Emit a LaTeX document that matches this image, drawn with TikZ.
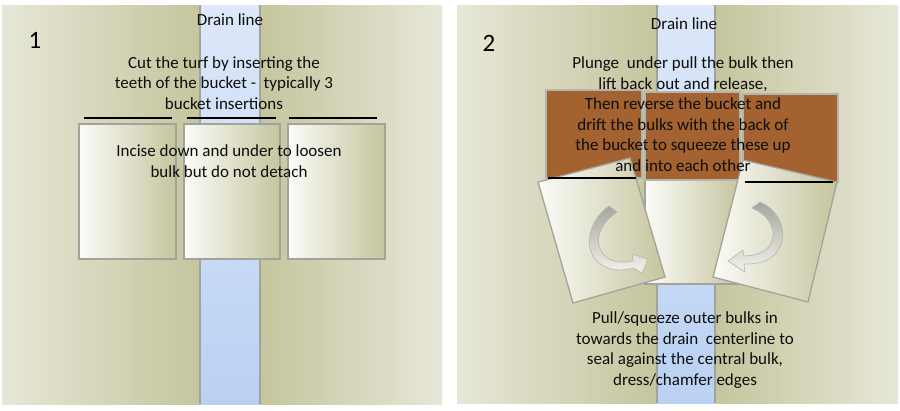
\documentclass[tikz,border=0pt]{standalone}
\usepackage{xcolor}
\usepackage{fontspec}
\setmainfont{Carlito}
\usepackage{tikz}

\definecolor{turflight}{HTML}{E7E7D8}
\definecolor{turfdark}{HTML}{C5C59E}
\definecolor{draintop}{HTML}{DDE8F9}
\definecolor{drainbottom}{HTML}{B9D1F3}
\definecolor{bulkbrown}{HTML}{A3622F}
\definecolor{rimgray}{HTML}{A3A39B}
\definecolor{arrowgray}{HTML}{A6A6A0}

\begin{document}
\begin{tikzpicture}[x=1pt, y=-1pt,
    turfleft/.style={left color=turflight, right color=turfdark},
    turfright/.style={left color=turfdark, right color=turflight},
    drain/.style={top color=draintop, bottom color=drainbottom},
    bulk/.style={draw=rimgray, line width=1.3pt, left color=white!85!turflight, right color=turfdark},
    lifted/.style={draw=rimgray!80, line width=1.3pt, fill=bulkbrown},
    cutline/.style={line width=1.3pt, black},
    turnarrow/.style={draw=rimgray!80, line width=0.6pt, top color=arrowgray, bottom color=turflight!50!white},
    txt/.style={font=\fontsize{17}{20.5}\selectfont, align=center, text=black!95, inner sep=0pt},
    stepno/.style={font=\fontsize{25}{30}\selectfont, inner sep=0pt}]
    \useasboundingbox (0,0) rectangle (900,410);
    \fill[white] (0,0) rectangle (900,410);

    % Panel 1 - turf and drain
    \shade[turfleft] (2,5) rectangle (200,404);
    \shade[turfright] (260,5) rectangle (442,404);
    \shade[drain] (200,5) rectangle (260,404);
    \draw[rimgray, line width=1.5pt] (200,5) -- (200,404) (260,5) -- (260,404);

    % Panel 1 - bucket cuts and bulks
    \draw[cutline] (84,118) -- (172,118);
    \draw[cutline] (187,118) -- (276,118);
    \draw[cutline] (289,118) -- (377,118);
    \draw[bulk] (79,124) rectangle (176,259);
    \draw[bulk] (184,124) rectangle (280,259);
    \draw[bulk] (288,124) rectangle (385,259);

    % Panel 1 - labels
    \node[stepno] (num1) at (35,40) {1};
    \node[txt] (drain1) at (230,20) {Drain line};
    \node[txt] (cut) at (224,83) {Cut the turf by inserting the\\teeth of the bucket -~ typically 3\\bucket insertions};
    \node[txt] (incise) at (229,161) {Incise down and under to loosen\\bulk but do not detach};

    % Panel 2 - turf and drain
    \shade[turfleft] (457,5) rectangle (657,403);
    \shade[turfright] (715,5) rectangle (898,403);
    \shade[drain] (657,5) rectangle (715,403);
    \draw[rimgray, line width=1.5pt] (657,5) -- (657,403) (715,5) -- (715,403);

    % Panel 2 - centre bulk, lifted bulks
    \draw[bulk] (645,92) rectangle (740,284);
    \draw[lifted] (546,90) rectangle (642,178);
    \draw[lifted] (645,92) rectangle (740,180);
    \draw[lifted] (743,94) rectangle (838,182);

    % Panel 2 - outer bulks turned in
    \draw[bulk] (538,182) -- (630,158) -- (665,277) -- (573,303) -- cycle;
    \draw[bulk] (743,160) -- (837,182) -- (808,302) -- (713,277) -- cycle;
    \draw[cutline] (548,178) -- (636,178);
    \draw[cutline] (745,182) -- (833,182);

    % Panel 2 - turning arrows
    \draw[turnarrow] (609,206) .. controls (586,222) and (580,258) .. (608,268)
        .. controls (616,271) and (626,270) .. (633,268) -- (642,273) -- (648,259) -- (632,254) -- (633,261)
        .. controls (624,263) and (615,262) .. (609,259)
        .. controls (592,248) and (596,226) .. (617,212) -- cycle;
    \draw[turnarrow] (760,202) .. controls (788,214) and (792,252) .. (762,262)
        .. controls (755,264) and (750,264) .. (744,264) -- (745,272) -- (728,261) -- (743,250) -- (744,256)
        .. controls (750,256) and (756,255) .. (762,252)
        .. controls (780,242) and (776,218) .. (752,208) -- cycle;

    % Panel 2 - labels
    \node[stepno] (num2) at (489,43) {2};
    \node[txt] (drain2) at (684,24) {Drain line};
    \node[txt] (plunge) at (683,114) {Plunge~ under pull the bulk then\\lift back out and release,\\Then reverse the bucket and\\drift the bulks with the back of\\the bucket to squeeze these up\\and into each other};
    \node[txt] (pull) at (685,350) {Pull/squeeze outer bulks in\\towards the drain~ centerline to\\seal against the central bulk,\\dress/chamfer edges};
\end{tikzpicture}
\end{document}
